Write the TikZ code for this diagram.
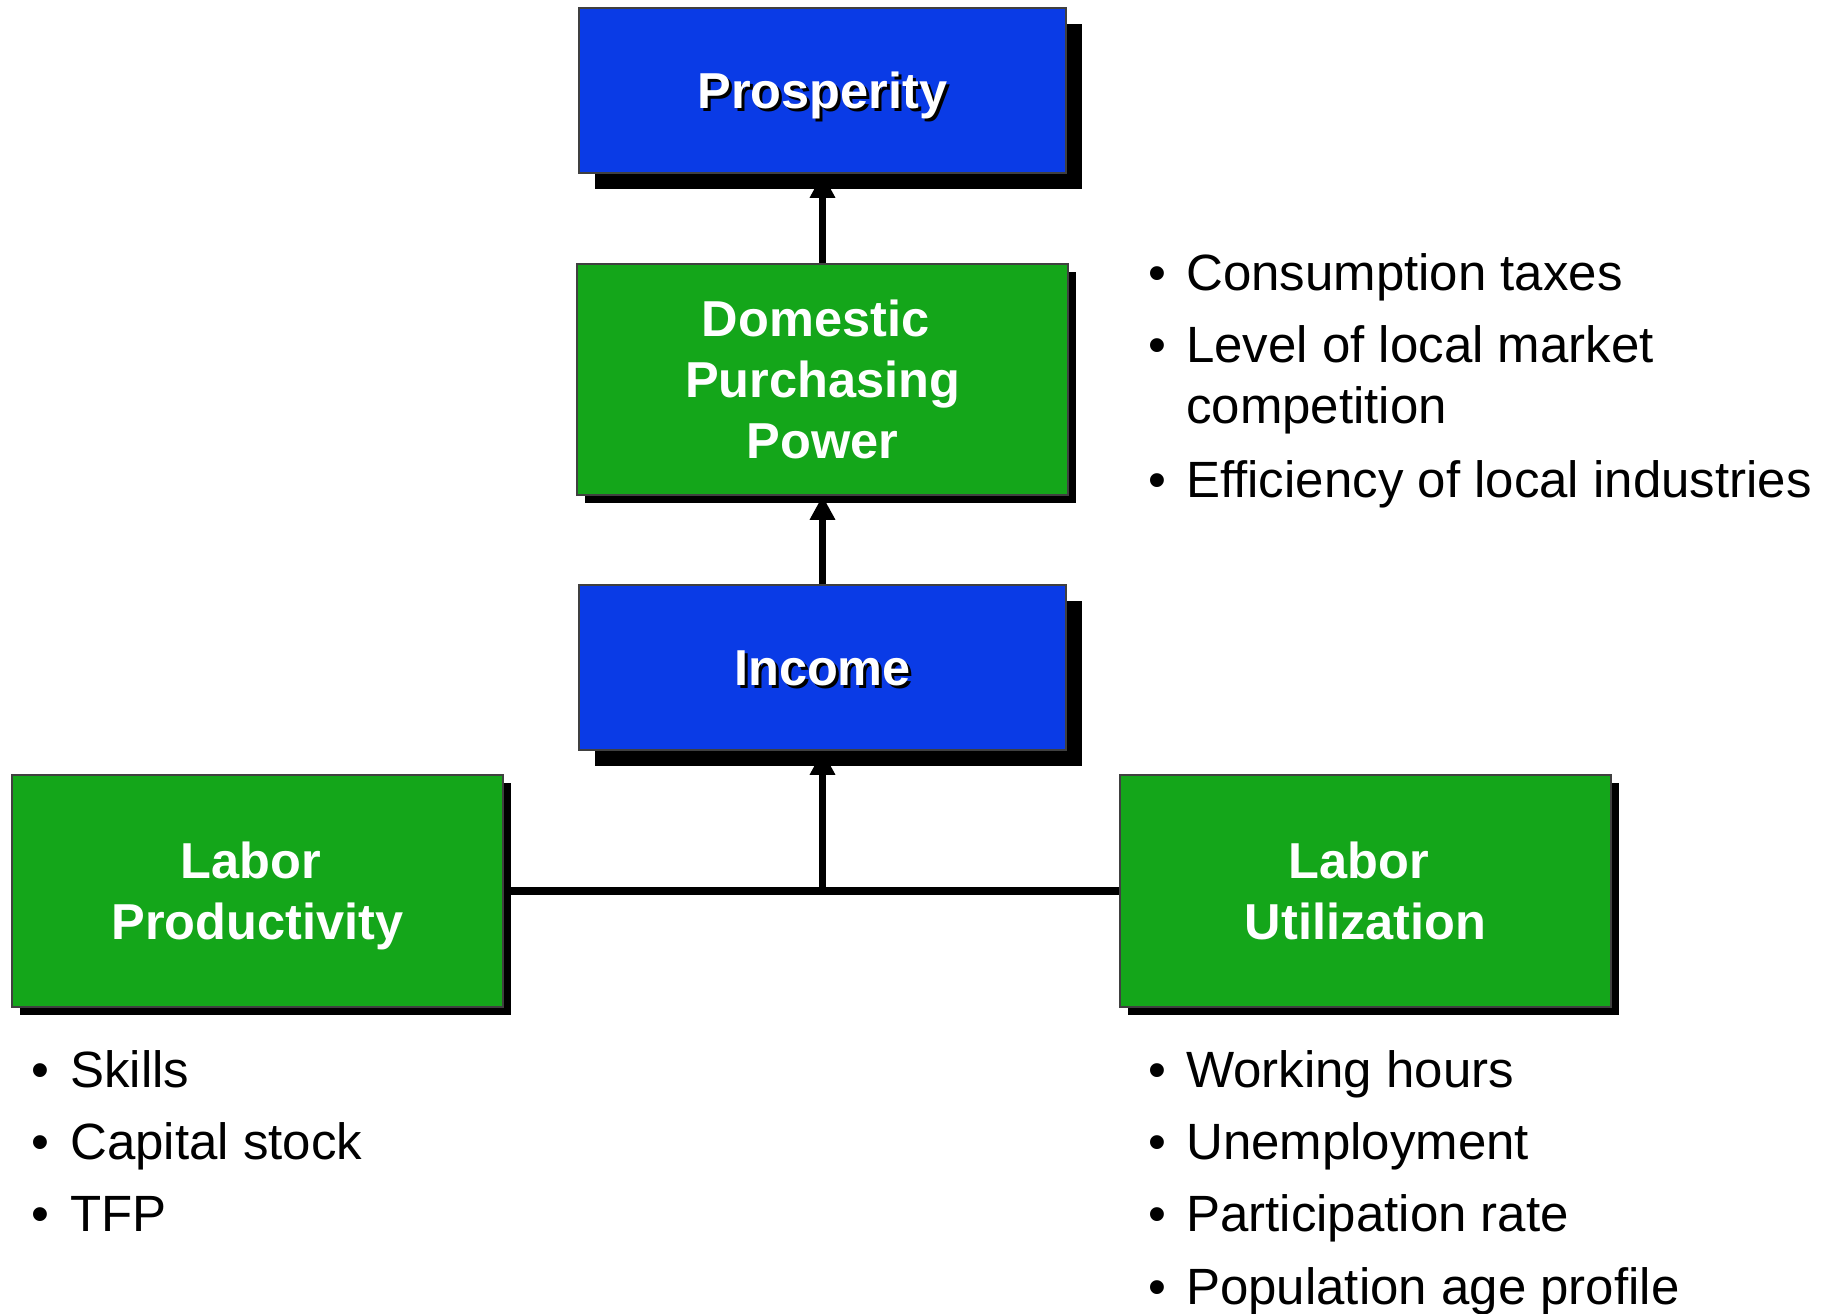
\documentclass[tikz,border=0pt]{standalone}
\usepackage{fontspec}
\setmainfont{Liberation Sans}
\usetikzlibrary{arrows.meta,shadows,backgrounds}

\definecolor{boxblue}{RGB}{10,59,230}
\definecolor{boxgreen}{RGB}{20,166,26}

% line strut with the font's full ascent and descent, so titles centre evenly
\newcommand\fs{\rule[-0.212em]{0pt}{1.117em}}
% white title with a small black offset copy behind it
\newcommand\shadowed[1]{\leavevmode\rlap{\kern3pt\raisebox{-3pt}{\color{black}#1}}#1}

\tikzset{
  box/.style={draw=black!75, line width=1.5pt, text=white, align=center,
    font=\fontsize{50.5}{61}\selectfont\bfseries, inner sep=0pt},
  bigshadow/.style={drop shadow={shadow xshift=16pt, shadow yshift=-16pt, opacity=1, fill=black}},
  smallshadow/.style={drop shadow={shadow xshift=8pt, shadow yshift=-8pt, opacity=1, fill=black}},
  bluebox/.style={box, fill=boxblue, bigshadow, minimum width=487pt, minimum height=165pt},
  greenbox/.style={box, fill=boxgreen, smallshadow, minimum width=491pt, minimum height=232pt},
  conn/.style={line width=7.5pt, -{Triangle[length=24pt,width=24pt]}},
  link/.style={line width=7.5pt},
  dot/.style={anchor=base west, inner sep=0pt, font=\fontsize{51}{61}\selectfont},
  item/.style={anchor=base west, inner sep=0pt, font=\fontsize{51}{61}\selectfont},
}

\begin{document}
\begin{tikzpicture}[x=1pt, y=-1pt]
\useasboundingbox (0,0) rectangle (1831,1314);

% boxes
\node[bluebox]  (pros) at (822.5,90.5)  {\fs\raisebox{-3pt}{\shadowed{Prosperity}}};
\node[greenbox, minimum height=231pt] (dom) at (822.5,379.5)
  {\fs Domestic\hspace*{14pt}\\\fs Purchasing\\\fs Power};
\node[bluebox]  (inc)  at (822.5,667.5) {\fs\shadowed{Income}};
\node[greenbox] (lp)   at (257.5,891)   {\fs Labor\hspace*{14pt}\\\fs Productivity};
\node[greenbox] (lu)   at (1365.5,891)  {\fs Labor\hspace*{14pt}\\\fs Utilization};

% connectors (behind the boxes and their shadows)
\begin{scope}[on background layer]
  \coordinate (j) at (inc.south |- lp.east);
  \draw[link] (lp.east) -- (lu.west);
  \draw[conn] (j) -- (inc.south);
  \draw[conn] (inc.north) -- (dom.south);
  \draw[conn] (dom.north) -- (pros.south);
\end{scope}

% factors of purchasing power
\node[dot]  (b1) at (1148,290) {•};
\node[item] (t1) at (1186,290) {Consumption taxes};
\node[dot]  (b2) at (1148,362) {•};
\node[item] (t2) at (1186,362) {Level of local market};
\node[item] (t2b) at (1186,423) {competition};
\node[dot]  (b3) at (1148,497) {•};
\node[item] (t3) at (1186,497) {Efficiency of local industries};

% factors of labor productivity
\node[dot]  (p1) at (31,1087) {•};
\node[item] (q1) at (70,1087) {Skills};
\node[dot]  (p2) at (31,1159) {•};
\node[item] (q2) at (70,1159) {Capital stock};
\node[dot]  (p3) at (31,1231) {•};
\node[item] (q3) at (70,1231) {TFP};

% factors of labor utilization
\node[dot]  (u1) at (1148,1087) {•};
\node[item] (v1) at (1186,1087) {Working hours};
\node[dot]  (u2) at (1148,1159) {•};
\node[item] (v2) at (1186,1159) {Unemployment};
\node[dot]  (u3) at (1148,1231) {•};
\node[item] (v3) at (1186,1231) {Participation rate};
\node[dot]  (u4) at (1148,1304) {•};
\node[item] (v4) at (1186,1304) {Population age profile};
\end{tikzpicture}
\end{document}
